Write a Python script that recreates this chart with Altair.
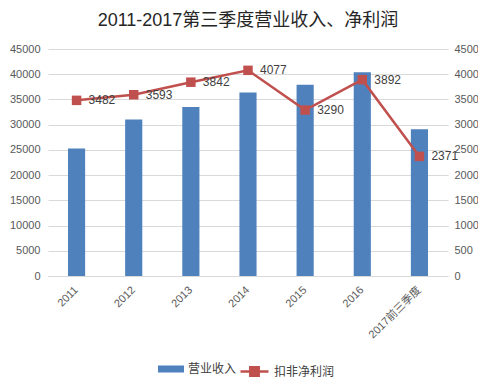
import altair as alt
import pandas as pd

categories = ["2011", "2012", "2013", "2014", "2015", "2016", "2017前三季度"]
revenue = [25300, 31000, 33500, 36400, 37900, 40400, 29100]
profit = [3482, 3593, 3842, 4077, 3290, 3892, 2371]

df = pd.DataFrame({"cat": categories, "revenue": revenue, "profit": profit})

FONT = "Liberation Sans, Noto Sans CJK SC"
BLUE = "#4f81bd"
RED = "#c0504d"

x_enc = alt.X(
    "cat:N",
    sort=categories,
    title=None,
    scale=alt.Scale(paddingInner=0.7, paddingOuter=0.35),
    axis=alt.Axis(
        labelAngle=-45,
        labelAlign="right",
        labelBaseline="middle",
        labelPadding=12,
        labelFontSize=11,
        labelColor="#595959",
        ticks=False,
        domainColor="#d9d9d9",
        domainWidth=1,
        grid=False,
    ),
)

left_axis = alt.Axis(
    values=list(range(0, 45001, 5000)),
    format="d",
    labelFontSize=11,
    labelColor="#595959",
    labelPadding=8,
    ticks=False,
    domain=False,
    gridColor="#d9d9d9",
    gridWidth=1,
    title=None,
)
right_axis = alt.Axis(
    orient="right",
    values=list(range(0, 4501, 500)),
    format="d",
    labelFontSize=11,
    labelColor="#595959",
    labelPadding=6,
    ticks=False,
    domain=False,
    grid=False,
    title=None,
)

bars = (
    alt.Chart(df)
    .transform_calculate(s1="'营业收入'")
    .mark_bar(color=BLUE)
    .encode(
        x=x_enc,
        y=alt.Y("revenue:Q", scale=alt.Scale(domain=[0, 45000], nice=False), axis=left_axis),
        color=alt.Color(
            "s1:N",
            scale=alt.Scale(domain=["营业收入"], range=[BLUE]),
            legend=alt.Legend(
                title=None,
                orient="none",
                legendX=110,
                legendY=307,
                symbolType="M-1,-0.27H1V0.27H-1Z",
                symbolSize=676,
                symbolStrokeWidth=0,
                labelFontSize=12,
                labelColor="#404040",
                labelFont=FONT,
                labelOffset=4,
            ),
        ),
    )
)

y_right = alt.Y("profit:Q", scale=alt.Scale(domain=[0, 4500], nice=False), axis=right_axis)

line = (
    alt.Chart(df)
    .transform_calculate(s2="'扣非净利润'")
    .mark_line(strokeWidth=2.5)
    .encode(
        x=x_enc,
        y=y_right,
        stroke=alt.Stroke(
            "s2:N",
            scale=alt.Scale(domain=["扣非净利润"], range=[RED]),
            legend=alt.Legend(
                title=None,
                orient="none",
                legendX=191,
                legendY=307,
                symbolType="M-1,0H1M-0.3,-0.3H0.3V0.3H-0.3Z",
                symbolSize=784,
                symbolStrokeWidth=2.5,
                symbolFillColor=RED,
                labelFontSize=12,
                labelColor="#404040",
                labelFont=FONT,
                labelOffset=4,
            ),
        ),
    )
)

squares = (
    alt.Chart(df)
    .mark_point(shape="square", filled=True, size=90, color=RED, opacity=1)
    .encode(x=x_enc, y=y_right)
)

labels = (
    alt.Chart(df)
    .mark_text(align="left", baseline="middle", dx=12, fontSize=12, color="#404040", font=FONT)
    .encode(x=x_enc, y=y_right, text=alt.Text("profit:Q", format="d"))
)

right = alt.layer(line, squares, labels)

chart = (
    alt.layer(bars, right)
    .resolve_scale(y="independent", color="independent")
    .properties(
        width=400,
        height=227,
        title=alt.TitleParams(
            "2011-2017第三季度营业收入、净利润",
            fontSize=18,
            font=FONT,
            fontWeight="normal",
            color="#262626",
            anchor="middle",
            offset=13,
        ),
        autosize=alt.AutoSizeParams(type="none"),
        padding={"left": 40, "top": 41, "right": 30, "bottom": 104},
    )
    .configure_view(stroke=None)
    .configure_axis(labelFont=FONT)
)

chart.save("out.html", embed_options={"renderer": "svg", "actions": False})
